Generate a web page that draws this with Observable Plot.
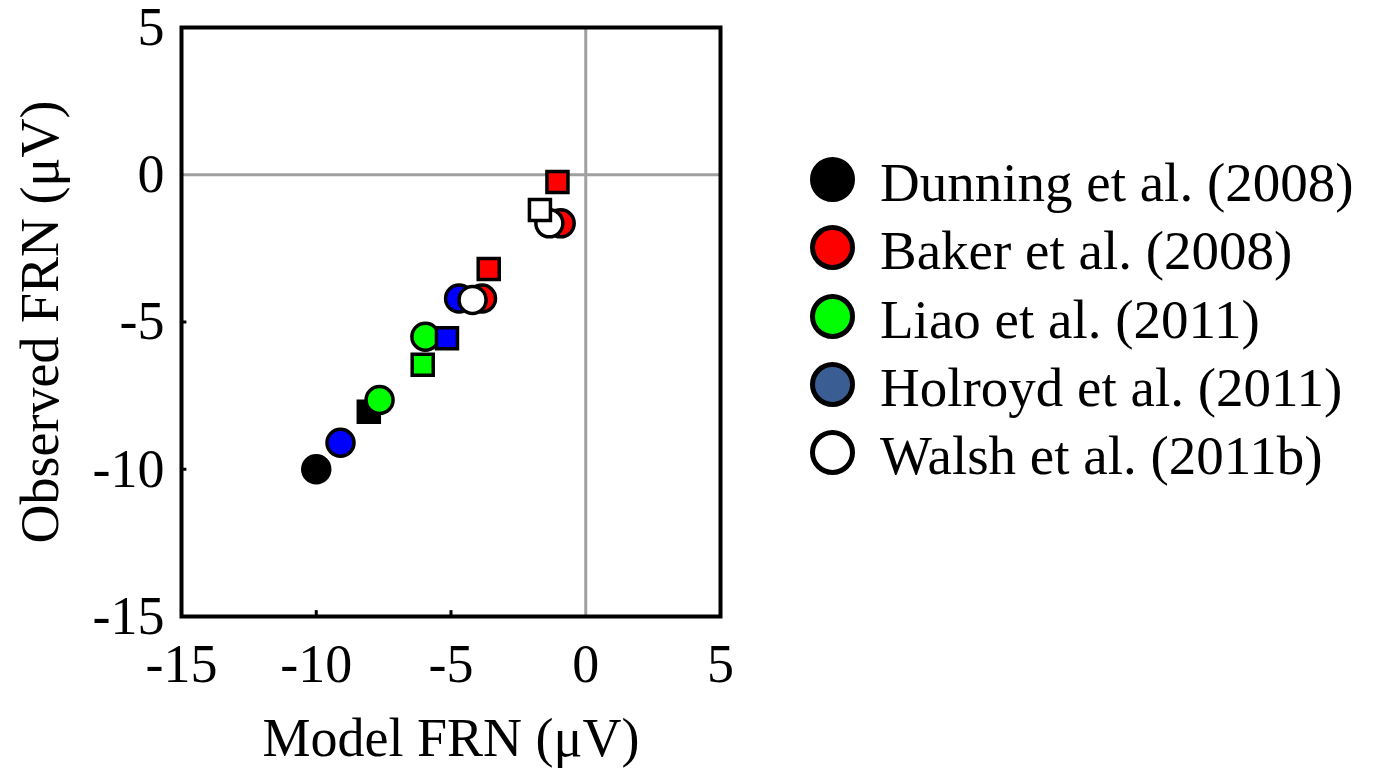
<!DOCTYPE html>
<html><head><meta charset="utf-8">
<script src="https://cdn.jsdelivr.net/npm/d3@7"></script>
<script src="https://cdn.jsdelivr.net/npm/@observablehq/plot@0.6"></script>
<style>
body{margin:0;background:#fff;overflow:hidden;}
#wrap{position:relative;width:1376px;height:768px;background:#fff;}
#chart{position:absolute;left:0;top:0;}
#legend{position:absolute;left:0;top:0;font-family:"Liberation Serif","Times New Roman",serif;font-size:55px;color:#000;}
.item{position:absolute;left:810px;height:45px;display:flex;align-items:center;white-space:nowrap;}
.sw{width:35px;height:35px;border:5px solid #000;border-radius:50%;box-sizing:content-box;flex:none;}
.lab{margin-left:25px;position:relative;top:3px;line-height:1;}
</style></head><body>
<div id="wrap"><div id="chart"></div><div id="legend"></div></div>
<script>
// Studies, in drawing order
const studies = ["Dunning et al. (2008)", "Baker et al. (2008)", "Liao et al. (2011)", "Holroyd et al. (2011)", "Walsh et al. (2011b)"];
const legendColors = ["#000000", "#ff0000", "#00ff00", "#3a5e93", "#ffffff"];
const pointColors  = ["#000000", "#ff0000", "#00ff00", "#0000ff", "#ffffff"];
const legendY = [179, 247, 316, 384, 452];

// Circle points (study index, model FRN, observed FRN)
const circleStudy    = [0, 1, 1, 2, 2, 3, 3, 4, 4];
const circleModel    = [-10.0, -3.85, -0.93, -7.65, -5.95, -9.1, -4.7, -4.2, -1.35];
const circleObserved = [-10.0, -4.2, -1.65, -7.65, -5.5, -9.1, -4.2, -4.25, -1.65];

// Square points
const squareStudy    = [0, 1, 1, 2, 3, 4];
const squareModel    = [-8.05, -3.6, -1.05, -6.05, -5.15, -1.7];
const squareObserved = [-8.05, -3.2, -0.25, -6.45, -5.55, -1.2];

const axisTicks = [-15, -10, -5, 0, 5];
const innerTicks = [-10, -5];

const circles = circleStudy.map((s, i) => ({study: s, x: circleModel[i], y: circleObserved[i]}));
const squares = squareStudy.map((s, i) => ({study: s, x: squareModel[i], y: squareObserved[i]}));

const pointMarks = [];
studies.forEach((name, s) => {
  pointMarks.push(Plot.dot(circles.filter(d => d.study === s), {
    x: "x", y: "y", r: 13.5, symbol: "circle", fill: pointColors[s], stroke: "#000", strokeWidth: 3.5
  }));
  pointMarks.push(Plot.dot(squares.filter(d => d.study === s), {
    x: "x", y: "y", r: 11.85, symbol: "square", fill: pointColors[s], stroke: "#000", strokeWidth: 3.5
  }));
});

const chart = Plot.plot({
  width: 760,
  height: 768,
  marginLeft: 181,
  marginRight: 40,
  marginTop: 27,
  marginBottom: 152,
  x: {domain: [-15, 5]},
  y: {domain: [-15, 5]},
  style: {fontFamily: "Liberation Serif, Times New Roman, serif", fontSize: "54px", background: "white", color: "black"},
  marks: [
    Plot.ruleX([0], {stroke: "#a0a0a0", strokeWidth: 3}),
    Plot.ruleY([0], {stroke: "#a0a0a0", strokeWidth: 3}),
    Plot.ruleX(innerTicks, {y1: -15, y2: -14.8, stroke: "#000", strokeWidth: 3}),
    Plot.ruleY(innerTicks, {x1: -15, x2: -14.8, stroke: "#000", strokeWidth: 3}),
    Plot.frame({stroke: "#000", strokeWidth: 4}),
    Plot.axisX({ticks: axisTicks, tickSize: 0, tickPadding: 27, tickFormat: d => String(d), label: null}),
    Plot.axisY({ticks: axisTicks, tickSize: 0, tickPadding: 17, tickFormat: d => String(d), label: null}),
    ...pointMarks,
    Plot.text(["Model FRN (μV)"], {text: d => d, frameAnchor: "bottom", textAnchor: "middle", dy: 122, lineAnchor: "middle", fontSize: 54}),
    Plot.text(["Observed FRN (μV)"], {text: d => d, frameAnchor: "left", textAnchor: "middle", rotate: -90, dx: -141, lineAnchor: "middle", fontSize: 54})
  ]
});
document.getElementById("chart").appendChild(chart);

const leg = document.getElementById("legend");
studies.forEach((name, s) => {
  const item = document.createElement("div");
  item.className = "item";
  item.style.top = (legendY[s] - 22.5) + "px";
  const sw = document.createElement("div");
  sw.className = "sw";
  sw.style.background = legendColors[s];
  const lab = document.createElement("span");
  lab.className = "lab";
  lab.textContent = name;
  item.appendChild(sw);
  item.appendChild(lab);
  leg.appendChild(item);
});
</script>
</body></html>
